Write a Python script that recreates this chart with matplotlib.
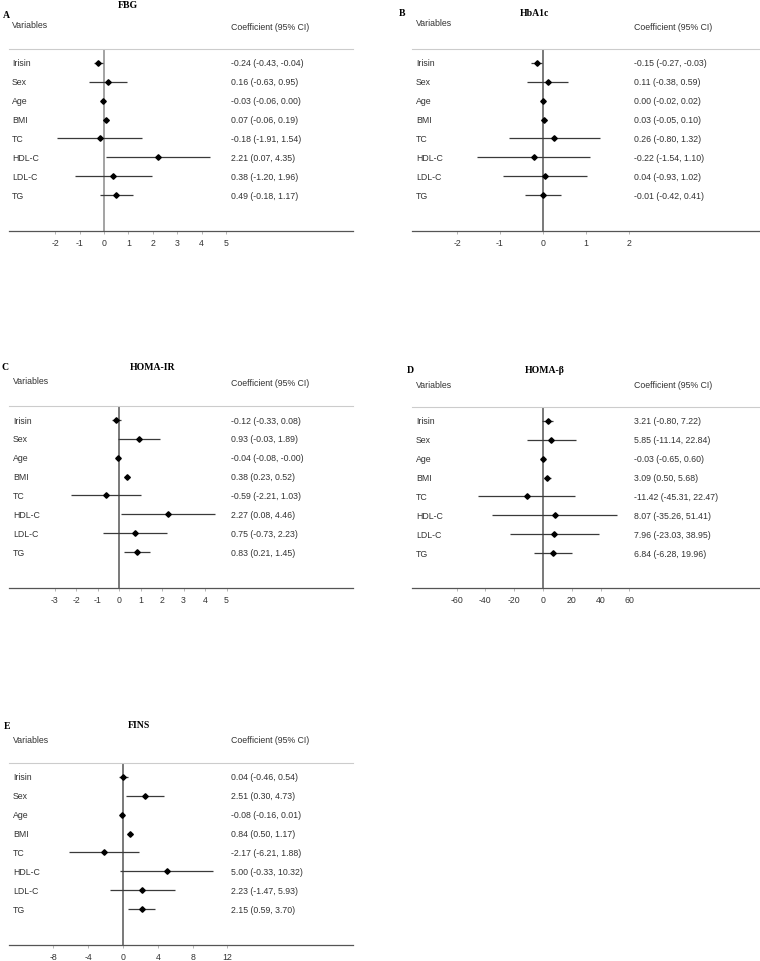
import matplotlib
matplotlib.use("Agg")
import matplotlib.pyplot as plt

variables = ["Irisin", "Sex", "Age", "BMI", "TC", "HDL-C", "LDL-C", "TG"]

fbg_coef = [-0.24, 0.16, -0.03, 0.07, -0.18, 2.21, 0.38, 0.49]
fbg_low = [-0.43, -0.63, -0.06, -0.06, -1.91, 0.07, -1.20, -0.18]
fbg_high = [-0.04, 0.95, 0.00, 0.19, 1.54, 4.35, 1.96, 1.17]

hba1c_coef = [-0.15, 0.11, 0.00, 0.03, 0.26, -0.22, 0.04, -0.01]
hba1c_low = [-0.27, -0.38, -0.02, -0.05, -0.80, -1.54, -0.93, -0.42]
hba1c_high = [-0.03, 0.59, 0.02, 0.10, 1.32, 1.10, 1.02, 0.41]

homair_coef = [-0.12, 0.93, -0.04, 0.38, -0.59, 2.27, 0.75, 0.83]
homair_low = [-0.33, -0.03, -0.08, 0.23, -2.21, 0.08, -0.73, 0.21]
homair_high = [0.08, 1.89, -0.0, 0.52, 1.03, 4.46, 2.23, 1.45]

homab_coef = [3.21, 5.85, -0.03, 3.09, -11.42, 8.07, 7.96, 6.84]
homab_low = [-0.80, -11.14, -0.65, 0.50, -45.31, -35.26, -23.03, -6.28]
homab_high = [7.22, 22.84, 0.60, 5.68, 22.47, 51.41, 38.95, 19.96]

fins_coef = [0.04, 2.51, -0.08, 0.84, -2.17, 5.00, 2.23, 2.15]
fins_low = [-0.46, 0.30, -0.16, 0.50, -6.21, -0.33, -1.47, 0.59]
fins_high = [0.54, 4.73, 0.01, 1.17, 1.88, 10.32, 5.93, 3.70]

fbg_ticks = [-2, -1, 0, 1, 2, 3, 4, 5]
hba1c_ticks = [-2, -1, 0, 1, 2]
homair_ticks = [-3, -2, -1, 0, 1, 2, 3, 4, 5]
homab_ticks = [-60, -40, -20, 0, 20, 40, 60]
fins_ticks = [-8, -4, 0, 4, 8, 12]

titles = ["FBG", "HbA1c", "HOMA-IR", "HOMA-β", "FINS"]
letters = ["A", "B", "C", "D", "E"]

W, H = 760, 962
fig = plt.figure(figsize=(W / 100, H / 100), dpi=100)

SANS = "Liberation Sans"
SERIF = "Liberation Serif"
TXT = "#333333"


def fx(x):
    return x / W


def fy(y):
    return 1 - y / H


panels = [
    dict(data=(fbg_coef, fbg_low, fbg_high), ticks=fbg_ticks,
         x0=9, x1=353, ytop=50, ybot=232, zero=104, ppu=24.4, zc="#8a8a8a",
         var_x=12, val_x=231, head_y=25, coef_y=27, title_xy=(128, 6), letter_xy=(3, 15)),
    dict(data=(hba1c_coef, hba1c_low, hba1c_high), ticks=hba1c_ticks,
         x0=412, x1=760, ytop=50, ybot=232, zero=543, ppu=43.0, zc="#555555",
         var_x=416, val_x=634, head_y=24, coef_y=27, title_xy=(534, 13), letter_xy=(399, 14)),
    dict(data=(homair_coef, homair_low, homair_high), ticks=homair_ticks,
         x0=9, x1=353, ytop=407, ybot=589, zero=119, ppu=21.5, zc="#555555",
         var_x=13, val_x=231, head_y=382, coef_y=384, title_xy=(153, 367), letter_xy=(2, 367)),
    dict(data=(homab_coef, homab_low, homab_high), ticks=homab_ticks,
         x0=412, x1=760, ytop=408, ybot=589, zero=543, ppu=1.44, zc="#555555",
         var_x=416, val_x=634, head_y=386, coef_y=386, title_xy=(545, 371), letter_xy=(407, 371)),
    dict(data=(fins_coef, fins_low, fins_high), ticks=fins_ticks,
         x0=9, x1=353, ytop=764, ybot=946, zero=123, ppu=8.7, zc="#555555",
         var_x=13, val_x=231, head_y=741, coef_y=741, title_xy=(139, 726), letter_xy=(4, 727)),
]

row_px = 18.86
top_pad = 14.0
for i, p in enumerate(panels):
    coef, low, high = p["data"]
    ax = fig.add_axes([fx(p["x0"]), fy(p["ybot"]), (p["x1"] - p["x0"]) / W,
                       (p["ybot"] - p["ytop"]) / H])
    xmin = (p["x0"] - p["zero"]) / p["ppu"]
    xmax = (p["x1"] - p["zero"]) / p["ppu"]
    ax.set_xlim(xmin, xmax)
    n = len(variables)
    hpx = p["ybot"] - p["ytop"]
    ytop_val = -top_pad / row_px
    ybot_val = ytop_val + hpx / row_px
    ax.set_ylim(ybot_val, ytop_val)
    ax.axvline(0, color=p["zc"], lw=1.1, zorder=1)
    ys = list(range(n))
    ax.hlines(ys, low, high, color="#3a3a3a", lw=0.9, zorder=2)
    ax.plot(coef, ys, linestyle="none", marker="D", markersize=2.8,
            color="black", zorder=3)
    ax.set_yticks([])
    ax.set_xticks(p["ticks"])
    ax.set_xticklabels([str(t) for t in p["ticks"]], fontsize=6.3,
                       family=SANS, color=TXT)
    ax.tick_params(axis="x", length=2.5, width=0.6, color="#aaaaaa", pad=2.5)
    for s in ("left", "right"):
        ax.spines[s].set_visible(False)
    ax.spines["top"].set_color("#cccccc")
    ax.spines["top"].set_linewidth(0.8)
    ax.spines["bottom"].set_color("#555555")
    ax.spines["bottom"].set_linewidth(0.9)
    ax.patch.set_alpha(0)

    for j, v in enumerate(variables):
        ypx = p["ytop"] + top_pad + j * row_px
        fig.text(fx(p["var_x"]), fy(ypx), v, fontsize=6.3, family=SANS,
                 color=TXT, ha="left", va="center")
        label = f"{coef[j]:.2f} ({low[j]:.2f}, {high[j]:.2f})"
        fig.text(fx(p["val_x"]), fy(ypx), label, fontsize=6.3, family=SANS,
                 color=TXT, ha="left", va="center")
    fig.text(fx(p["var_x"]), fy(p["head_y"]), "Variables", fontsize=6.3,
             family=SANS, color=TXT, ha="left", va="center")
    fig.text(fx(p["val_x"]), fy(p["coef_y"]), "Coefficient (95% CI)", fontsize=6.3,
             family=SANS, color=TXT, ha="left", va="center")
    tx, ty = p["title_xy"]
    fig.text(fx(tx), fy(ty), titles[i], fontsize=7, family=SERIF,
             fontweight="bold", color="black", ha="center", va="center")
    lx, ly = p["letter_xy"]
    fig.text(fx(lx), fy(ly), letters[i], fontsize=7, family=SERIF,
             fontweight="bold", color="black", ha="left", va="center")

fig.savefig("out.png", dpi=100)
